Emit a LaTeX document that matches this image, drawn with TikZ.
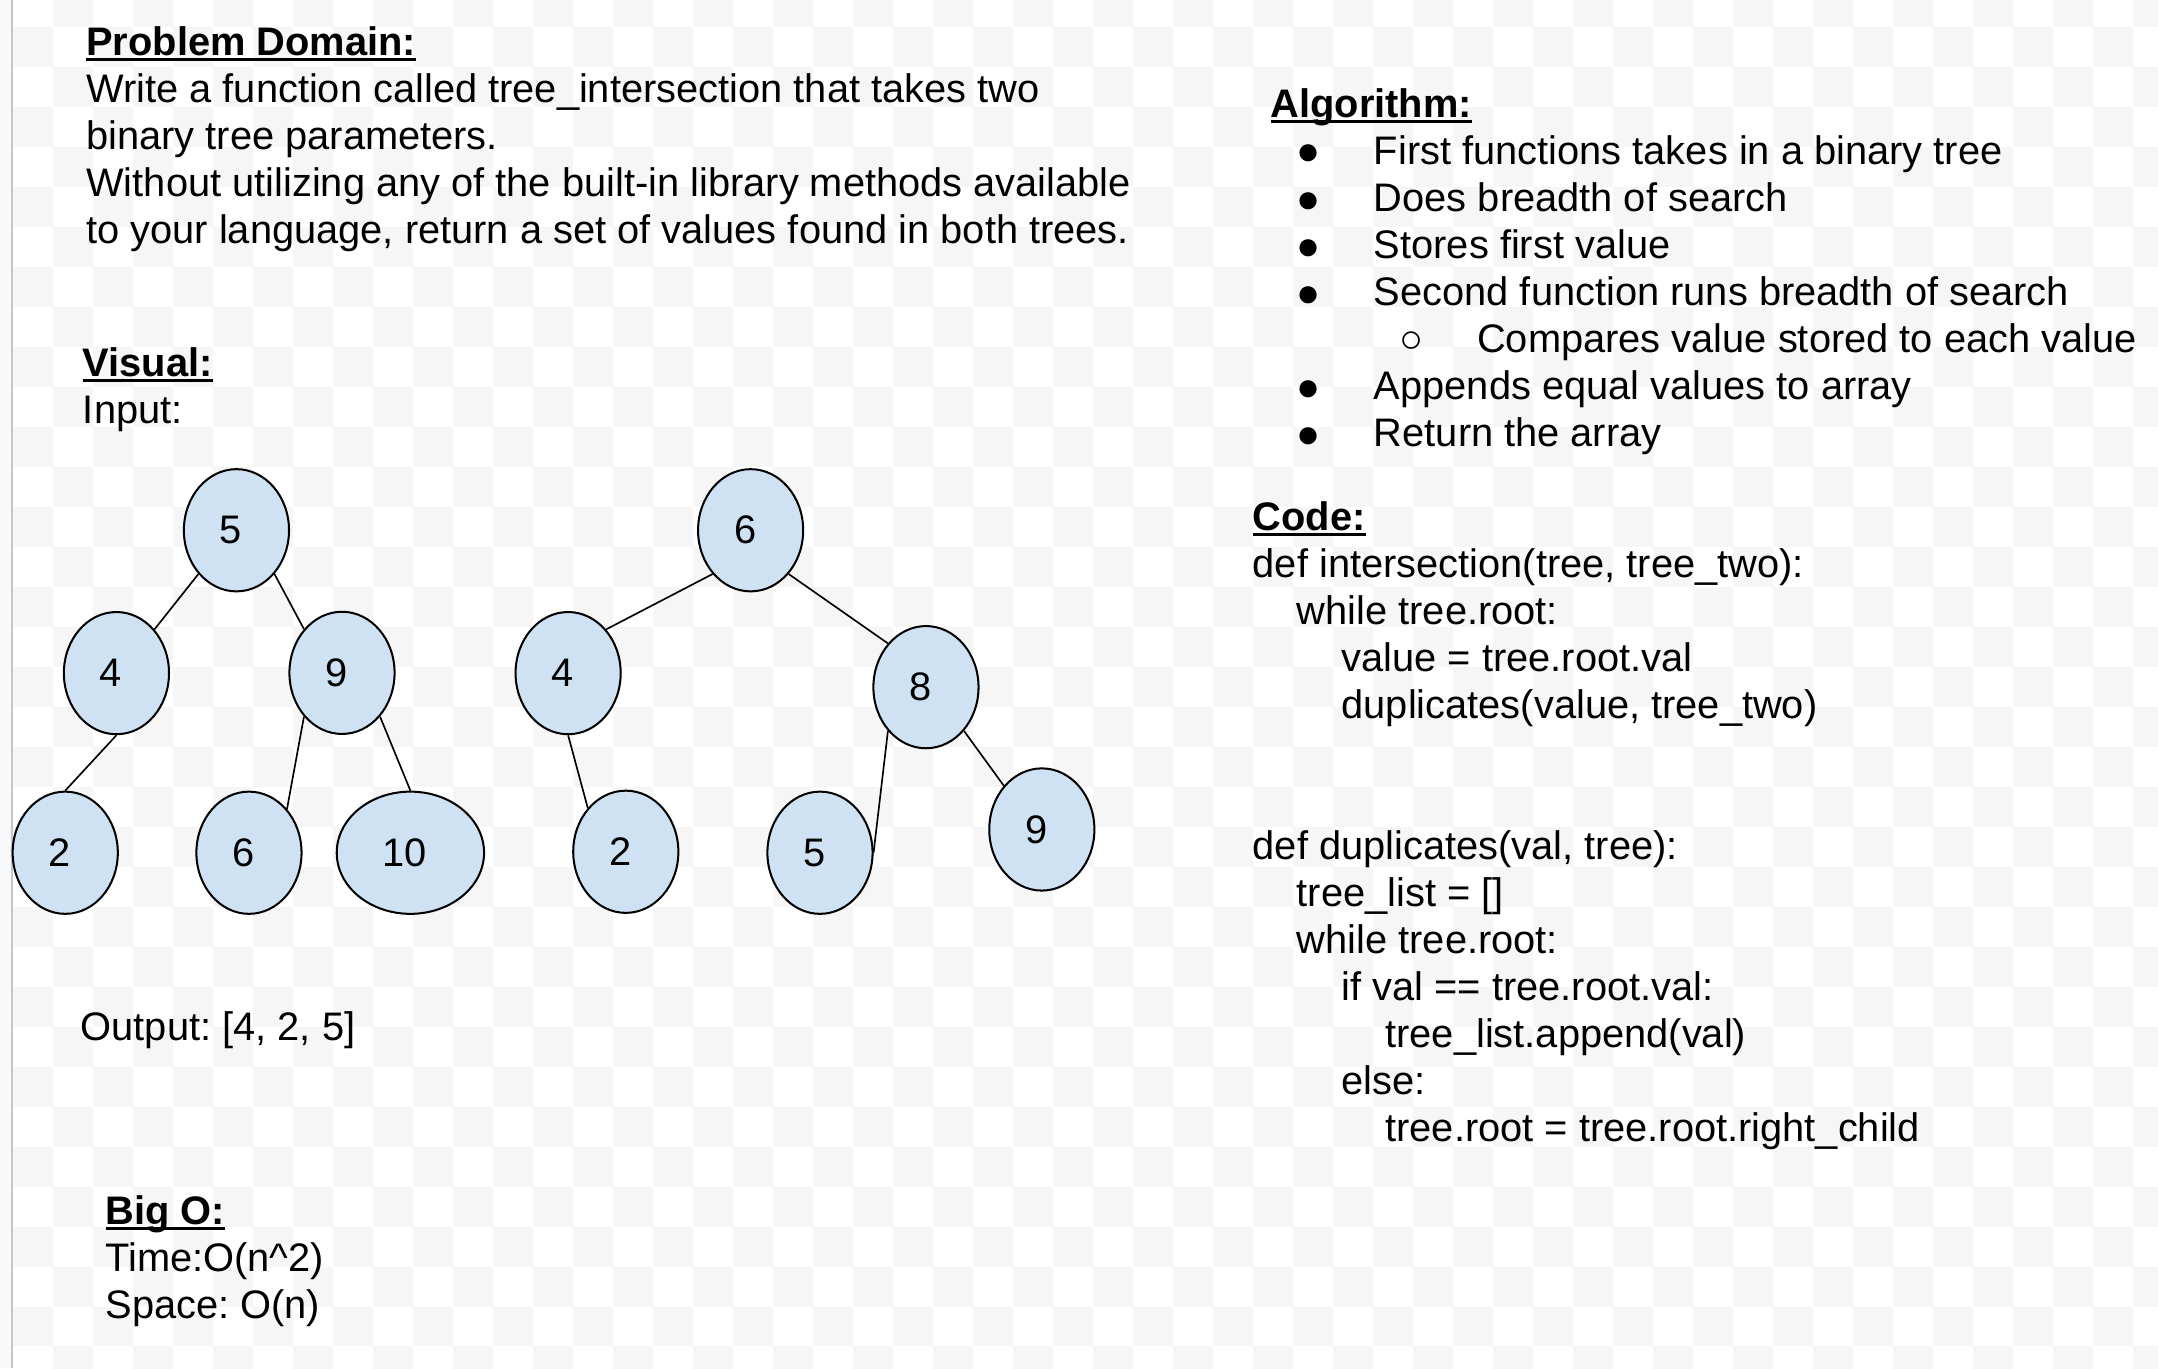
\documentclass[tikz,border=0pt]{standalone}
\usepackage{fontspec}
\setmainfont{Liberation Sans}
\usetikzlibrary{shapes.geometric}

\definecolor{nodeblue}{RGB}{207,226,243}
\definecolor{checkgray}{RGB}{246,246,246}
\definecolor{marginline}{RGB}{198,198,198}
\definecolor{marginfill}{RGB}{248,249,250}

% bold heading with underline
\newsavebox{\hdbox}
\newcommand{\hd}[1]{\sbox{\hdbox}{\textbf{#1}}\rlap{\rule[-3.1pt]{\wd\hdbox}{1.7pt}}\usebox{\hdbox}}

\tikzset{
  txt/.style={anchor=base west, inner sep=0pt, align=left, font=\fontsize{21.7}{25.6}\selectfont\frenchspacing},
  bul/.style={inner sep=0pt, font=\fontsize{21.7}{25.6}\selectfont},
  tnode/.style={ellipse, draw, fill=nodeblue, line width=1.1pt, inner sep=0pt,
    minimum width=57.3pt, minimum height=66.6pt, font=\fontsize{21.7}{25.6}\selectfont,
    execute at end node=\hspace*{6pt}},
  tedge/.style={line width=0.9pt}
}

\begin{document}
\begin{tikzpicture}[x=0.75pt,y=0.75pt,yscale=-1,xscale=1]
\useasboundingbox (0,0) rectangle (1568,994);
\fill[white] (0,0) rectangle (1568,994);

%Background: checker
\begin{scope}
\clip (9.7,0) rectangle (1568,994);
\foreach \j in {-1,...,33}
  \foreach \i in {0,...,53}{
    \pgfmathtruncatemacro{\chk}{mod(\i+\j+2,2)}
    \ifnum\chk=0 \fill[checkgray] ({9.69+29.06*\i},{19.38+29.06*\j}) rectangle ++(29.06,29.06); \fi
  }
\end{scope}
%Shape: Margin
\fill[marginfill] (0,0) rectangle (8,994);
\draw[marginline, line width=1.1pt] (8.85,0) -- (8.85,994);

% Text Node (anchored at the baseline of its last line)
\draw (62.5,176.6) node (prob) [txt] {\hd{Problem Domain:}\\
Write a function called tree\_intersection that takes two\\
binary tree parameters.\\
Without utilizing any of the built-in library methods available\\
to your language, return a set of values found in both trees.};
% Text Node
\draw (60,307.6) node (visual) [txt] {\hd{Visual:}\\Input:};
% Text Node
\draw (58.4,756.2) node (output) [txt] {Output: [4, 2, 5]};
% Text Node
\draw (76.4,957.9) node (bigo) [txt] {\hd{Big O:}\\Time:O(n\textasciicircum2)\\Space: O(n)};

% Text Node
\draw (923,85.3) node (algo) [txt] {\hd{Algorithm:}};
\draw (950.6,112.7) node (b1) [bul] {●};
\draw (998,119.5) node (a1) [txt] {First functions takes in a binary tree};
\draw (950.6,146.9) node (b2) [bul] {●};
\draw (998,153.7) node (a2) [txt] {Does breadth of search};
\draw (950.6,181.1) node (b3) [bul] {●};
\draw (998,187.8) node (a3) [txt] {Stores first value};
\draw (950.6,215.3) node (b4) [bul] {●};
\draw (998,222) node (a4) [txt] {Second function runs breadth of search};
\draw (1025.7,248.5) node (b5) [bul] {○};
\draw (1073,256.2) node (a5) [txt] {Compares value stored to each value};
\draw (950.6,283.6) node (b6) [bul] {●};
\draw (998,290.4) node (a6) [txt] {Appends equal values to array};
\draw (950.6,317.8) node (b7) [bul] {●};
\draw (998,324.6) node (a7) [txt] {Return the array};

% Text Node
\draw (910,522) node (code1) [txt] {\hd{Code:}\\
def intersection(tree, tree\_two):\\
\hspace*{24pt}while tree.root:\\
\hspace*{48.4pt}value = tree.root.val\\
\hspace*{48.4pt}duplicates(value, tree\_two)};
% Text Node
\draw (910,829.5) node (code2) [txt] {def duplicates(val, tree):\\
\hspace*{24pt}tree\_list = []\\
\hspace*{24pt}while tree.root:\\
\hspace*{48.4pt}if val == tree.root.val:\\
\hspace*{72.3pt}tree\_list.append(val)\\
\hspace*{48.4pt}else:\\
\hspace*{72.3pt}tree.root = tree.root.right\_child};

%Shape: Ellipse (first tree)
\draw (171.8,385.3) node (t1n5) [tnode] {5};
\draw (84.6,489.1) node (t1n4) [tnode] {4};
\draw (248.5,488.9) node (t1n9) [tnode] {9};
\draw (47.4,619.6) node (t1n2) [tnode] {2};
\draw (180.9,619.6) node (t1n6) [tnode] {6};
\draw (298.2,619.6) node (t1n10) [tnode, minimum width=80.3pt] {10};
%Shape: Ellipse (second tree)
\draw (545.4,385.3) node (t2n6) [tnode] {6};
\draw (412.8,489.1) node (t2n4) [tnode] {4};
\draw (672.8,499.3) node (t2n8) [tnode] {8};
\draw (454.7,618.9) node (t2n2) [tnode] {2};
\draw (595.8,619.6) node (t2n5) [tnode] {5};
\draw (757,602.7) node (t2n9) [tnode] {9};

%Straight Lines
\draw[tedge] (t1n5.229) -- (t1n4.49);
\draw[tedge] (t1n5.311) -- (t1n9.131);
\draw[tedge] (t1n4.270) -- (t1n2.90);
\draw[tedge] (t1n9.229) -- (t1n6.49);
\draw[tedge] (t1n9.311) -- (t1n10.90);
%Straight Lines
\draw[tedge] (t2n6.229) -- (t2n4.49);
\draw[tedge] (t2n6.311) -- (t2n8.131);
\draw[tedge] (t2n4.270) -- (t2n2.131);
\draw[tedge] (t2n8.229) -- (t2n5.0);
\draw[tedge] (t2n8.311) -- (t2n9.131);

\end{tikzpicture}
\end{document}
